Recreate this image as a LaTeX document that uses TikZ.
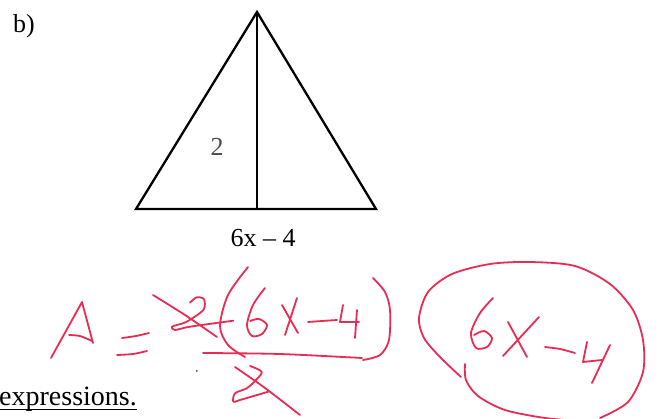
\documentclass[tikz,border=0pt]{standalone}
\usepackage{fontspec}
\setmainfont{Liberation Serif}
\usetikzlibrary{calc}
\definecolor{pen}{RGB}{232,45,85}
\tikzset{
  edge/.style={line width=2.3pt, line join=miter},
  ink/.style={pen, line width=1.8pt, line cap=round, line join=round},
  printed/.style={inner sep=0pt, font=\fontsize{26}{30}\selectfont},
}
\begin{document}
\begin{tikzpicture}[x=1pt, y=-1pt]
\useasboundingbox (0,0) rectangle (659,418);
\fill[white] (0,0) rectangle (659,418);

% printed part
\node[printed, anchor=base west] (lab) at (13,32) {b)};
\coordinate (apex) at (257,12);
\coordinate (bl) at (136,209);
\coordinate (br) at (376,209);
\coordinate (foot) at (257,209);
\draw[edge] (bl) -- (apex) -- (br) -- cycle;
\draw[line width=1.8pt] (apex) -- (foot);
\node[printed, anchor=base, text=black!70] (h) at (217,155) {2};
\node[printed, anchor=base] (b) at (263,246.5) {6x – 4};
\node[inner sep=0pt, anchor=base west, font=\fontsize{28}{32}\selectfont] (ex) at (-1,405) {expressions.};
\draw[line width=1.3pt] ($(ex.base west)+(0,4.5)$) -- ($(ex.base east)+(0,4.5)$);

% handwriting: A =
\draw[ink] (51,358) -- (82,302) -- (93,343);
\draw[ink] plot[smooth] coordinates {(69,335) (80,336) (92,341)};
\draw[ink] plot[smooth] coordinates {(122,338) (136,336) (149,333)};
\draw[ink] plot[smooth] coordinates {(117,355) (133,354) (147,351)};

% crossed 2 (numerator)
\draw[ink] plot[smooth] coordinates {(190,302.7) (196.7,297.3) (204,299.3) (203.3,310) (186.7,321.7) (176.7,325) (171.7,327) (175,330) (190,326.7) (233.3,320.7)};
\draw[ink] plot[smooth] coordinates {(153,295) (185,315) (217,337)};

% ( 6 X - 4 )
\draw[ink] plot[smooth] coordinates {(248,267) (228,295) (220,326) (228,345) (245,357)};
\draw[ink] plot[smooth] coordinates {(265,288) (253,305) (247,325) (252,336) (262,334) (267,325) (259,319) (250,321)};
\draw[ink] (282,305) -- (298,333);
\draw[ink] (297,298) -- (285,335);
\draw[ink] plot[smooth] coordinates {(308,322) (322,321) (337,320)};
\draw[ink] (343,305) -- (340,322) -- (359,322);
\draw[ink] (357,310) -- (355,338);
\draw[ink] plot[smooth] coordinates {(373,278) (385,292) (390,310) (389,340) (380,355) (363,360)};

% fraction bar and crossed 2 (denominator)
\draw[ink] plot[smooth] coordinates {(203,353) (280,354) (362,358)};
\draw[ink] plot[smooth] coordinates {(250,366) (261.7,371.7) (256,380) (246.7,388.3) (235,393.3) (233.3,401.7) (240,400) (268.3,391.7)};
\draw[ink] plot[smooth] coordinates {(235,367) (265,388) (300,415)};
\fill[brown!70!black] (196.7,371) circle (1.1pt);

% circled 6X-4
\draw[ink] plot[smooth] coordinates {(461,377) (440,357) (424,338) (419,318) (428,292) (452,274) (490,264) (530,262) (575,266) (610,284) (633,310) (643,340) (643,372) (628,402) (600,418)};
\draw[ink] plot[smooth] coordinates {(465,364) (466,380) (478,396) (505,410) (545,418) (580,421)};
\draw[ink] plot[smooth] coordinates {(493,298) (480,313) (471,333) (476,348) (487,347) (492,338) (484,331) (474,335)};
\draw[ink] (508,322) -- (527,357);
\draw[ink] (539,317) -- (503,356);
\draw[ink] plot[smooth] coordinates {(545,347) (560,349) (575,353)};
\draw[ink] (587,342) -- (583,362) -- (602,360);
\draw[ink] (610,345) -- (592,383);
\end{tikzpicture}
\end{document}
